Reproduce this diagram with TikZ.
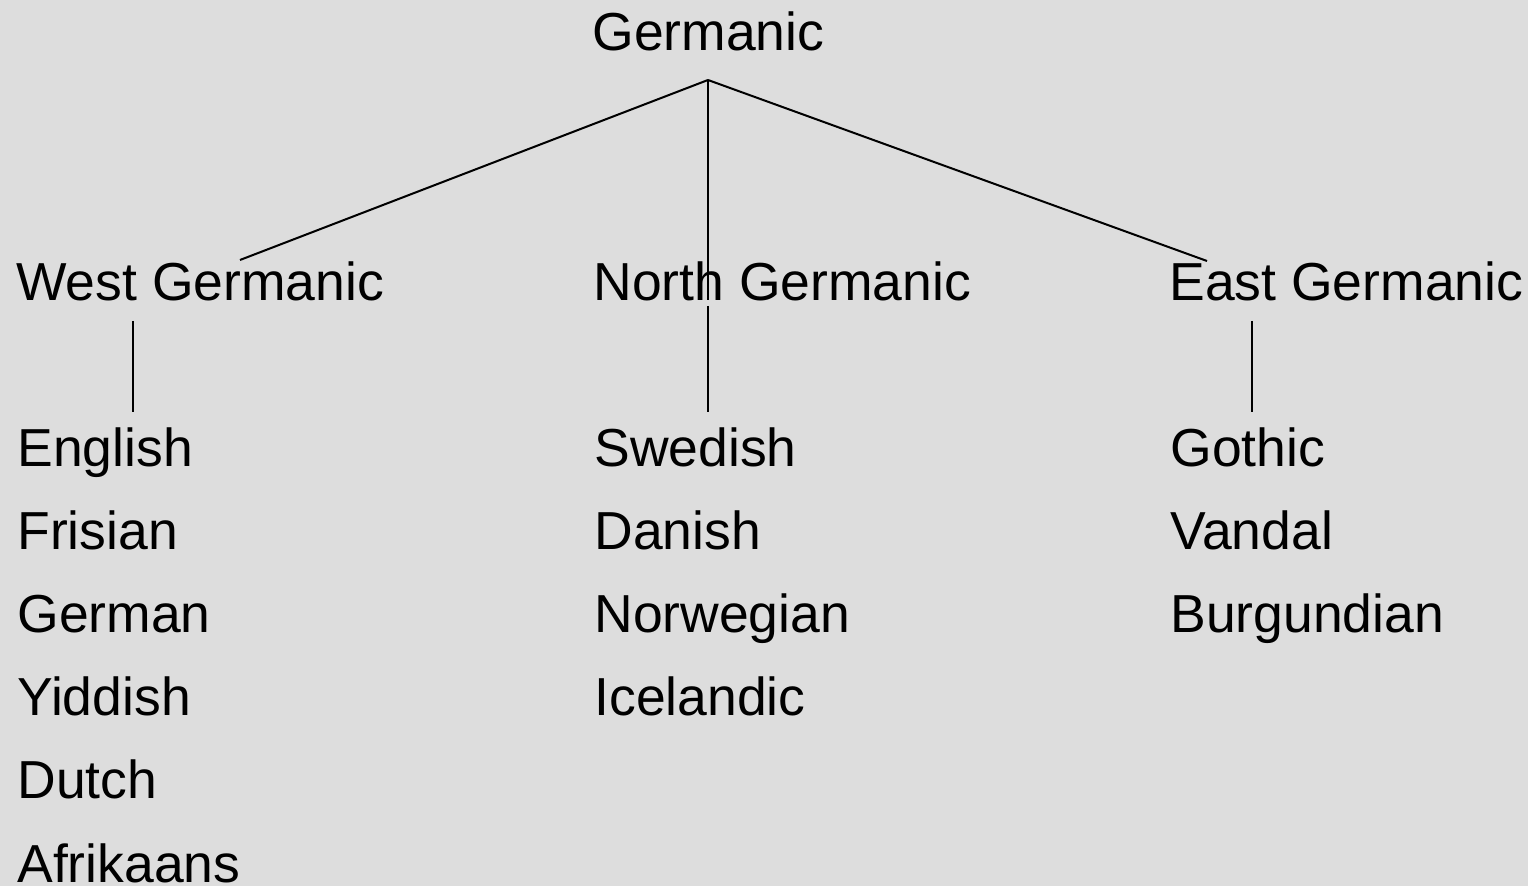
\documentclass[tikz,border=0pt]{standalone}
\usepackage{fontspec}
\setmainfont{Liberation Sans}
\definecolor{bggray}{RGB}{221,221,221}
\tikzset{
  lang/.style={anchor=base west, inner sep=0pt, font=\fontsize{26.75}{30}\selectfont},
  branch/.style={line width=1pt}
}

\begin{document}
\begin{tikzpicture}[x=0.5pt,y=-0.5pt]
  % Background
  \fill[bggray] (0,0) rectangle (1528,886);
  \useasboundingbox (0,0) rectangle (1528,886);

  % Root
  \node[lang] (germanic) at (592,51) {Germanic};
  \coordinate (apex) at (708,80);

  % Branches
  \node[lang] (west) at (16,301) {West Germanic};
  \node[lang] (north) at (593,301) {North Germanic};
  \node[lang] (east) at (1169,301) {East Germanic};
  \coordinate (westtop) at (240,260);
  \coordinate (northtop) at (708,300);
  \coordinate (easttop) at (1207,261);

  % West Germanic languages
  \node[lang] (english) at (17,467) {English};
  \node[lang] (frisian) at (17,550) {Frisian};
  \node[lang] (german) at (17,633) {German};
  \node[lang] (yiddish) at (17,716) {Yiddish};
  \node[lang] (dutch) at (17,799) {Dutch};
  \node[lang] (afrikaans) at (17,883) {Afrikaans};

  % North Germanic languages
  \node[lang] (swedish) at (594,467) {Swedish};
  \node[lang] (danish) at (594,550) {Danish};
  \node[lang] (norwegian) at (594,633) {Norwegian};
  \node[lang] (icelandic) at (594,716) {Icelandic};

  % East Germanic languages
  \node[lang] (gothic) at (1170,467) {Gothic};
  \node[lang] (vandal) at (1170,550) {Vandal};
  \node[lang] (burgundian) at (1170,633) {Burgundian};

  % Lines from the root
  \draw[branch] (apex) -- (westtop);
  \draw[branch] (apex) -- (northtop);
  \draw[branch] (apex) -- (easttop);

  % Lines down to the languages
  \coordinate (westa) at (133,321);
  \coordinate (westb) at (133,412);
  \coordinate (northa) at (708,306);
  \coordinate (northb) at (708,412);
  \coordinate (easta) at (1252,321);
  \coordinate (eastb) at (1252,412);
  \draw[branch] (westa) -- (westb);
  \draw[branch] (northa) -- (northb);
  \draw[branch] (easta) -- (eastb);
\end{tikzpicture}
\end{document}
